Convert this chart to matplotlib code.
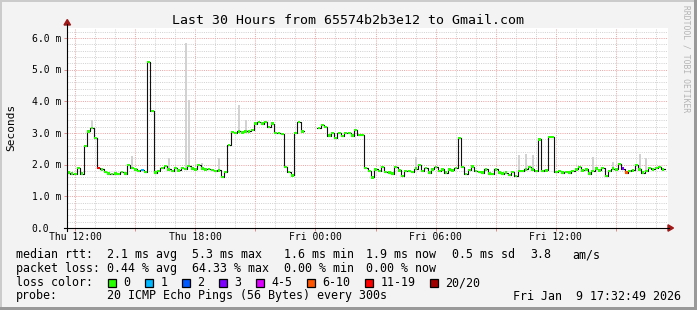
import numpy as np
import matplotlib
matplotlib.use("Agg")
import matplotlib.pyplot as plt
from matplotlib.patches import Rectangle, Polygon
from matplotlib.lines import Line2D

# ---------------- data ----------------
start_hour = 11.6          # Thu 11:36 (hours since Thu 00:00)
step_hours = 1.0 / 6.0     # 10-minute samples
end_hour = 41.6

median_ms = [
    1.75, 1.72, 1.70, 1.89, 1.72, 2.60, 3.05, 3.15, 2.85, 1.90,
    1.85, 1.78, 1.72, 1.70, 1.72, 1.70, 1.76, 1.72, 2.00, 1.90,
    1.85, 1.80, 1.83, 1.78, 5.25, 3.70, 1.75, 1.80, 1.90, 1.95,
    1.85, 1.80, 1.90, 1.82, 1.90, 1.86, 1.95, 1.88, 1.85, 2.00,
    1.88, 1.85, 1.87, 1.83, 1.80, 1.82, 1.62, 1.78, 2.62, 3.04,
    3.00, 3.05, 3.02, 3.05, 3.05, 3.10, 3.30, 3.36, 3.30, 3.36,
    3.20, 3.30, 3.00, 3.00, 2.98, 1.92, 1.78, 1.66, 3.00, 3.35,
    3.05, np.nan, np.nan, np.nan, np.nan, 3.15, 3.25, 3.20, 2.92, 3.00,
    2.85, 3.00, 2.90, 3.00, 3.00, 2.92, 3.10, 2.95, 2.95, 1.90,
    1.80, 1.60, 1.85, 1.80, 1.93, 1.78, 1.75, 1.72, 1.93, 1.82,
    1.65, 1.80, 1.80, 1.78, 1.88, 1.98, 1.80, 1.90, 1.75, 1.85,
    1.93, 1.80, 1.85, 1.75, 1.85, 1.82, 1.90, 2.84, 1.93, 1.70,
    1.84, 1.94, 1.80, 1.78, 1.75, 1.85, 1.72, 1.70, 1.85, 1.75,
    1.72, 1.75, 1.68, 1.78, 1.65, 1.80, 1.80, 1.85, 1.93, 1.85,
    1.80, 2.80, 1.80, 1.82, 2.87, 2.87, 1.78, 1.80, 1.75, 1.78,
    1.75, 1.80, 1.85, 1.93, 1.82, 1.85, 1.72, 1.80, 1.88, 1.82,
    1.90, 1.65, 1.80, 1.88, 1.85, 2.02, 1.88, 1.75, 1.80, 1.82,
    1.98, 1.85, 1.75, 1.80, 1.90, 1.85, 1.90, 1.92, 1.85,
]

# smoke (gray) spikes: sample index -> top of smoke in ms
smoke_idx = [7, 19, 30, 35, 36, 40, 45, 51, 53, 104, 135, 137, 139, 157, 163, 171, 173]
smoke_top_ms = [3.40, 2.27, 2.20, 5.85, 4.05, 2.05, 2.20, 3.88, 3.40, 2.25,
                2.30, 2.35, 2.30, 2.25, 2.10, 2.35, 2.20]

# loss classes (all other samples are class 0)
loss_idx = [9, 22, 166, 167]
loss_class = [6, 1, 3, 5]
loss_labels = ["0", "1", "2", "3", "4-5", "6-10", "11-19", "20/20"]
loss_colors = ["#26ff00", "#00b8ff", "#0059ff", "#7e00ff", "#dd00ff",
               "#ff5500", "#ff0000", "#a10000"]

x_tick_hours = [12, 18, 24, 30, 36]
x_tick_labels = ["Thu 12:00", "Thu 18:00", "Fri 00:00", "Fri 06:00", "Fri 12:00"]
y_tick_values = [0, 1, 2, 3, 4, 5, 6]
y_tick_labels = ["0.0", "1.0 m", "2.0 m", "3.0 m", "4.0 m", "5.0 m", "6.0 m"]

title = "Last 30 Hours from 65574b2b3e12 to Gmail.com"
y_label = "Seconds"
rtt_label = "median rtt:"
rtt_stats = ["2.1 ms avg", "5.3 ms max", "1.6 ms min", "1.9 ms now", "0.5 ms sd", "3.8", "am/s"]
loss_label = "packet loss:"
loss_stats = ["0.44 % avg", "64.33 % max", "0.00 % min", "0.00 % now"]
color_label = "loss color:"
probe_label = "probe:"
probe_text = "20 ICMP Echo Pings (56 Bytes) every 300s"
date_text = "Fri Jan  9 17:32:49 2026"
watermark = "RRDTOOL / TOBI OETIKER"

# ---------------- layout ----------------
W, H = 697, 310
MONO = "DejaVu Sans Mono"
plt.rcParams["font.family"] = MONO

fig = plt.figure(figsize=(W / 100, H / 100), dpi=100)
fig.patch.set_facecolor("#f3f3f3")

PL, PR, PT, PB = 67, 668, 28, 228
ax = fig.add_axes([PL / W, 1 - PB / H, (PR - PL) / W, (PB - PT) / H])
ax.set_facecolor("white")
for s in ax.spines.values():
    s.set_visible(False)

ymax = 6.32
ax.set_xlim(start_hour, end_hour)
ax.set_ylim(0, ymax)

mgrid = "#eaa6a6"
grid = "#d2d2d2"
ax.set_xticks(np.arange(12, end_hour, 3))
ax.set_xticks(np.arange(12, end_hour, 1), minor=True)
ax.set_yticks(y_tick_values)
ax.set_yticks(np.arange(0, ymax, 0.2), minor=True)
ax.tick_params(which="both", labelbottom=False, labelleft=False)
ax.tick_params(which="major", length=2.2, width=0.7, color="#e08a8a")
ax.tick_params(which="minor", length=0)
ax.grid(which="minor", color=grid, lw=0.72, ls=(0, (1, 1.2)))
ax.grid(which="major", color=mgrid, lw=0.72, ls=(0, (1, 1.2)))
ax.set_axisbelow(True)

n = len(median_ms)
t = start_hour + np.arange(n) * step_hours
v = np.array(median_ms, dtype=float)

# smoke
for i, top in zip(smoke_idx, smoke_top_ms):
    ax.bar(t[i] + step_hours * 0.2, top - v[i], bottom=v[i], width=step_hours * 0.6,
           align="edge", color="#d2d2d2", lw=0, zorder=2)

# black median line
t_ext = np.append(t, t[-1] + step_hours)
v_ext = np.append(v, v[-1])
ax.plot(t_ext, v_ext, drawstyle="steps-post", color="#101010", lw=0.8, zorder=3)

# loss-colored band
cls = np.zeros(n, dtype=int)
for i, c in zip(loss_idx, loss_class):
    cls[i] = c
band = 0.036
for i in range(n):
    if np.isnan(v[i]):
        continue
    ax.bar(t[i] + step_hours * 0.08, 2 * band, bottom=v[i] - band, width=step_hours * 0.84,
           align="edge", color=loss_colors[cls[i]], lw=0, zorder=4)

# ---------------- pixel helpers ----------------
def fx(px):
    return px / W

def fy(py):
    return 1 - py / H

# axes lines & arrows
arrow_c = "#a01818"
fig.add_artist(Line2D([fx(PL), fx(PL)], [fy(PB + 3), fy(24)], color="black", lw=0.8))
fig.add_artist(Line2D([fx(PL - 3), fx(PR + 1)], [fy(PB), fy(PB)], color="black", lw=0.8))
fig.add_artist(Polygon([[fx(PL - 3), fy(25)], [fx(PL + 3.5), fy(25)], [fx(PL + 0.3), fy(19.5)]],
                       closed=True, color=arrow_c, transform=fig.transFigure))
fig.add_artist(Polygon([[fx(PR), fy(PB - 3.2)], [fx(PR), fy(PB + 3.2)], [fx(PR + 5.5), fy(PB)]],
                       closed=True, color=arrow_c, transform=fig.transFigure))

# tick labels
for hv, lab in zip(x_tick_hours, x_tick_labels):
    px = PL + (hv - start_hour) / (end_hour - start_hour) * (PR - PL)
    fig.text(fx(px), fy(240.5), lab, ha="center", va="baseline", fontsize=7, color="black")
for yv, lab in zip(y_tick_values, y_tick_labels):
    py = PB - yv / ymax * (PB - PT)
    fig.text(fx(31.5), fy(py + 3.5), lab, ha="left", va="baseline", fontsize=7, color="black")

# title, y label, watermark
fig.text(fx(348), fy(23.5), title, ha="center", va="baseline", fontsize=9.5, color="black")
fig.text(fx(11), fy(127), y_label, ha="center", va="center", rotation=90, fontsize=8, color="black")
fig.text(fx(686), fy(59), watermark, ha="center", va="center", rotation=270,
         fontsize=5.8, color="#b4b4b4")

# legend rows
LS = 8.4
fig.text(fx(16), fy(258), rtt_label, fontsize=LS, va="baseline")
for s, px in zip(rtt_stats, [107, 192, 284, 366, 452, 530, 572]):
    fig.text(fx(px), fy(258), s, fontsize=LS, va="baseline")
fig.text(fx(16), fy(272), loss_label, fontsize=LS, va="baseline")
for s, px in zip(loss_stats, [107, 192, 284, 366]):
    fig.text(fx(px), fy(272), s, fontsize=LS, va="baseline")
fig.text(fx(16), fy(286), color_label, fontsize=LS, va="baseline")
bx = 108.3
for lab, col in zip(loss_labels, loss_colors):
    fig.add_artist(Rectangle((fx(bx), fy(286.5)), 8 / W, 8 / H, transform=fig.transFigure,
                             facecolor=col, edgecolor="black", lw=0.9))
    fig.text(fx(bx + 15), fy(286), lab, fontsize=LS, va="baseline")
    bx += 15 + 7 * len(lab) + 15
fig.text(fx(16), fy(299.5), probe_label, fontsize=LS, va="baseline")
fig.text(fx(107), fy(299.5), probe_text, fontsize=LS, va="baseline")
fig.text(fx(681), fy(299.5), date_text, fontsize=LS, va="baseline", ha="right")

# image frame (rrdtool shade)
fig.add_artist(Rectangle((0, fy(2)), 1, 2 / H, transform=fig.transFigure, color="#cbcbcb", lw=0))
fig.add_artist(Rectangle((0, 0), 2 / W, 1, transform=fig.transFigure, color="#cbcbcb", lw=0))
fig.add_artist(Rectangle((0, 0), 1, 3 / H, transform=fig.transFigure, color="#999999", lw=0))
fig.add_artist(Rectangle((1 - 3 / W, 0), 3 / W, 1, transform=fig.transFigure, color="#999999", lw=0))

fig.savefig("out.png", dpi=100, facecolor=fig.get_facecolor())
